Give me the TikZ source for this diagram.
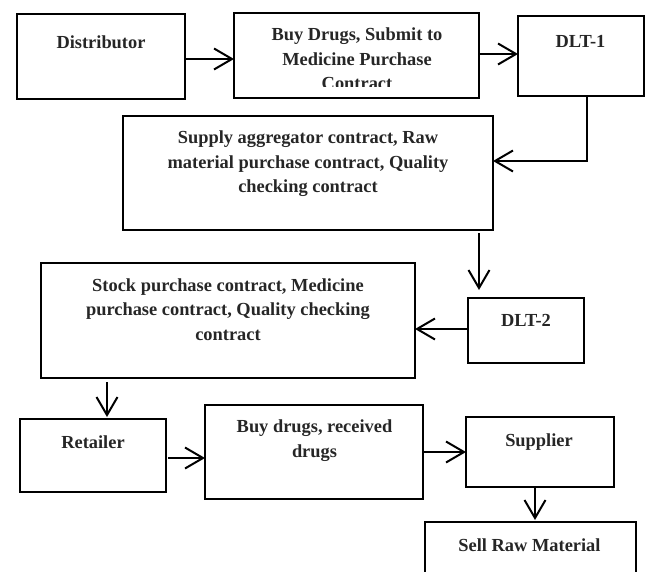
\documentclass[tikz,border=0pt]{standalone}
\usepackage{fontspec}
\setmainfont{Liberation Serif}
\usetikzlibrary{arrows.meta,calc}
\begin{document}
\begin{tikzpicture}[x=1bp,y=-1bp,
  box/.style={draw=black,line width=1.5bp,rectangle,inner sep=0pt,outer sep=0pt},
  lbl/.style={anchor=base,inner sep=0pt,align=center,font=\bfseries\fontsize{18.4bp}{24.4bp}\selectfont,text=black!85},
  arr/.style={draw=black,line width=2bp,-{Straight Barb[length=18bp,width=21bp,line width=2bp]}}]
\useasboundingbox (0,0) rectangle (645,572);
\clip (0,0) rectangle (645,572);

% boxes
\node[box,minimum width=168bp,minimum height=85bp] (dist) at (101,56.5) {};
\node[box,minimum width=245bp,minimum height=85bp] (buy1) at (356.5,55.5) {};
\node[box,minimum width=126bp,minimum height=80bp] (dlt1) at (581,56) {};
\node[box,minimum width=370bp,minimum height=114bp] (supply) at (308,173) {};
\node[box,minimum width=116bp,minimum height=65bp] (dlt2) at (526,330.5) {};
\node[box,minimum width=374bp,minimum height=115bp] (stock) at (228,320.5) {};
\node[box,minimum width=146bp,minimum height=73bp] (ret) at (93,455.5) {};
\node[box,minimum width=218bp,minimum height=94bp] (buy2) at (314,452) {};
\node[box,minimum width=148bp,minimum height=70bp] (sup) at (540,452) {};
\node[box,minimum width=211bp,minimum height=100bp] (sell) at (530.5,572) {};

% texts (multi-line: base anchor = last line baseline)
\node[lbl] (distt) at (101,49) {Distributor};
\begin{scope}
  \clip (234,13) rectangle (479,87);
  \node[lbl] (buy1t) at (357,89.5) {Buy Drugs, Submit to\\Medicine Purchase\\Contract};
\end{scope}
\node[lbl] (dlt1t) at (580.5,48) {DLT-1};
\node[lbl] (supplyt) at (308,192.6) {Supply aggregator contract, Raw\\material purchase contract, Quality\\checking contract};
\node[lbl] (dlt2t) at (526,326) {DLT-2};
\node[lbl] (stockt) at (228,340) {Stock purchase contract, Medicine\\purchase contract, Quality checking\\contract};
\node[lbl] (rett) at (93,448) {Retailer};
\node[lbl] (buy2t) at (314.5,457.3) {Buy drugs, received\\drugs};
\node[lbl] (supt) at (539,446) {Supplier};
\node[lbl] (sellt) at (529.5,551) {Sell Raw Material};

% connectors
\draw[arr] ([yshift=-2.5bp]dist.east) -- ([yshift=-2.5bp]dist.east -| buy1.west);
\draw[arr] ([yshift=1.5bp]buy1.east) -- ([yshift=1.5bp]buy1.east -| dlt1.west);
\draw[arr] ([xshift=6bp]dlt1.south) |- ([yshift=12bp]supply.east);
\coordinate (c1) at ([xshift=-47bp]dlt2.north);
\draw[arr,shorten <=3bp,shorten >=8bp] (c1 |- supply.south) -- (c1);
\draw[arr] ([yshift=1.5bp]dlt2.west) -- ([yshift=1.5bp]dlt2.west -| stock.east);
\coordinate (c2) at ([xshift=14bp]ret.north);
\draw[arr,shorten <=4bp,shorten >=2bp] (c2 |- stock.south) -- (c2);
\draw[arr,shorten <=2bp] ([yshift=-2.5bp]ret.east) -- ([yshift=-2.5bp]ret.east -| buy2.west);
\draw[arr] (buy2.east) -- (buy2.east -| sup.west);
\coordinate (c3) at ([xshift=-5bp]sup.south);
\draw[arr,shorten >=2bp] (c3) -- (c3 |- sell.north);
\end{tikzpicture}
\end{document}
